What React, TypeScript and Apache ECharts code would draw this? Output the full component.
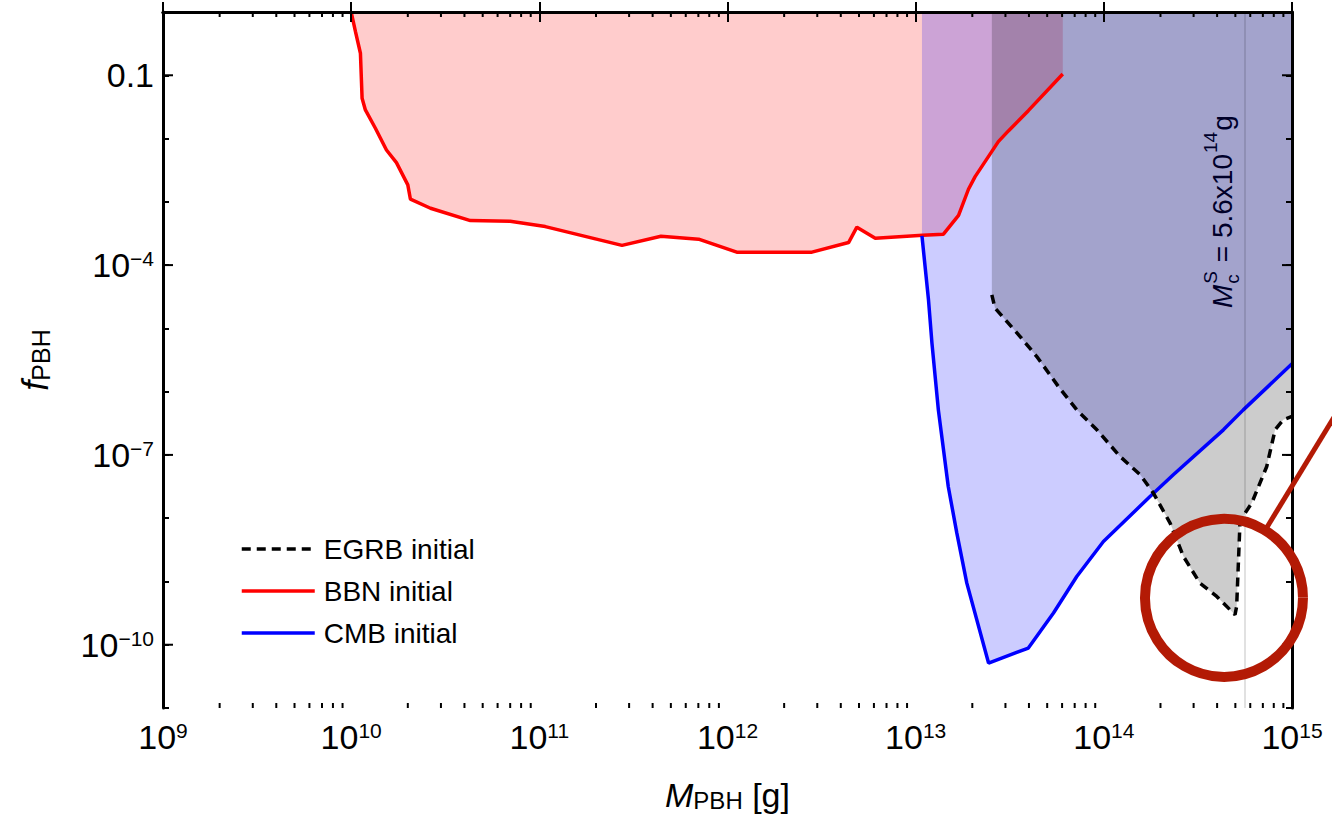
import React, { useEffect, useRef } from 'react';
import * as echarts from 'echarts';

const FONT = "'Liberation Sans', Arial, Helvetica, sans-serif";

// BBN initial constraint (boundary of red region)
const bbnMass = [1.0e10, 1.054e10, 1.12e10, 1.143e10, 1.19e10, 1.345e10, 1.54e10, 1.74e10, 2.0e10, 2.065e10, 2.64e10, 4.3e10, 7.0e10, 1.076e11, 2.75e11, 4.43e11, 7.02e11, 1.12e12, 2.81e12, 4.40e12, 4.87e12, 6.1e12, 1.09e13, 1.405e13, 1.69e13, 1.908e13, 2.07e13, 2.75e13, 3.11e13, 3.97e13, 6.05e13];
const bbnF = [1.0, 0.489, 0.223, 0.0433, 0.0283, 0.01455, 6.6e-3, 4.16e-3, 1.85e-3, 1.1e-3, 7.92e-4, 5.05e-4, 4.94e-4, 4.06e-4, 2.05e-4, 2.86e-4, 2.57e-4, 1.6e-4, 1.6e-4, 2.27e-4, 3.97e-4, 2.66e-4, 2.97e-4, 3.08e-4, 6.1e-4, 1.58e-3, 2.5e-3, 8.93e-3, 1.32e-2, 2.76e-2, 0.105];

// CMB initial constraint (boundary of blue region)
const cmbMass = [1.08e13, 1.17e13, 1.22e13, 1.32e13, 1.49e13, 1.655e13, 1.87e13, 2.44e13, 3.97e13, 5.4e13, 7.18e13, 9.95e13, 1.76e14, 2.34e14, 4.32e14, 5.51e14, 1.0e15];
const cmbF = [2.89e-4, 2.82e-5, 5.9e-6, 5.15e-7, 3.17e-8, 5.8e-9, 9.4e-10, 5.14e-11, 8.87e-11, 3.17e-10, 1.2e-9, 4.28e-9, 2.2e-8, 4.85e-8, 2.49e-7, 5.15e-7, 2.75e-6];

// EGRB initial constraint (dashed boundary of gray region)
const egrbMass = [2.54e13, 2.64e13, 3.59e13, 4.40e13, 5.74e13, 7.18e13, 9.18e13, 1.22e14, 1.56e14, 1.83e14, 2.25e14, 2.65e14, 3.24e14, 3.98e14, 4.98e14, 5.08e14, 5.29e14, 5.63e14, 6.11e14, 7.34e14, 8.13e14, 8.99e14, 1.0e15];
const egrbF = [3.38e-5, 2.09e-5, 7.42e-6, 3.59e-6, 1.2e-6, 5.15e-7, 2.49e-7, 9.44e-8, 4.85e-8, 2.52e-8, 8.37e-9, 2.48e-9, 9.44e-10, 5.8e-10, 2.98e-10, 4.03e-10, 8.37e-9, 1.2e-8, 1.73e-8, 6.56e-8, 2.49e-7, 3.59e-7, 4.05e-7];

const criticalMass = 5.6e14;
const xMin = 1e9;
const xMax = 1e15;
const yMin = 1e-11;
const yMax = 1;
const xDecades = [9, 10, 11, 12, 13, 14];
const minorMultipliers = [2, 3, 4, 5, 6, 7, 8, 9];
const yLabelExps = [-10, -7, -4, -1];
const legendNames = ['EGRB initial', 'BBN initial', 'CMB initial'];
const circleCenter = [4.35e14, 5.5e-10];
const labelAnchor = [5.6e14, 2.1e-5];

const zip = (a: number[], b: number[]) => a.map((v, i) => [v, b[i]]);

const tickRich = {
  b: { fontSize: 34, lineHeight: 34, verticalAlign: 'bottom', fontFamily: FONT, color: '#000' },
  s: { fontSize: 21, lineHeight: 14, verticalAlign: 'top', fontFamily: FONT, color: '#000' },
};

export default function App() {
  const ref = useRef<HTMLDivElement>(null);
  useEffect(() => {
    if (!ref.current) return;
    const chart = echarts.init(ref.current, null, { renderer: 'svg' });

    const tickData: number[][] = [];
    xDecades.forEach((d) =>
      minorMultipliers.forEach((m) => {
        const v = m * Math.pow(10, d);
        tickData.push([v, yMin, 0]);
        tickData.push([v, yMax, 1]);
      })
    );
    yLabelExps.forEach((e) => {
      tickData.push([xMin, Math.pow(10, e), 2]);
      tickData.push([xMax, Math.pow(10, e), 3]);
    });

    const option: any = {
      animation: false,
      backgroundColor: '#fff',
      grid: { left: 163, right: 40, top: 12, bottom: 110, containLabel: false },
      legend: {
        data: legendNames,
        orient: 'vertical',
        left: 235,
        top: 530,
        itemWidth: 73,
        itemHeight: 14,
        itemGap: 14,
        selectedMode: false,
        itemStyle: { opacity: 0, borderWidth: 0 },
        lineStyle: { width: 3.5 },
        textStyle: { fontSize: 28, lineHeight: 27, fontFamily: FONT, color: '#000', padding: [0, 0, 0, 4] },
      },
      xAxis: [
        {
          type: 'log',
          min: xMin,
          max: xMax,
          position: 'bottom',
          z: 10,
          axisLine: { show: true, lineStyle: { color: '#000', width: 3 } },
          axisTick: { show: true, inside: true, length: 10, lineStyle: { color: '#000', width: 2 } },
          splitLine: { show: false },
          axisLabel: {
            margin: 12,
            formatter: (v: number) => `{b|10}{s|${Math.round(Math.log10(v))}}`,
            rich: tickRich,
          },
          name: '{m|M}{sub|PBH}{n| [g]}',
          nameLocation: 'middle',
          nameGap: 70,
          nameTextStyle: {
            rich: {
              m: { fontSize: 34, lineHeight: 34, fontStyle: 'italic', verticalAlign: 'bottom', fontFamily: FONT, color: '#000' },
              sub: { fontSize: 24, lineHeight: 16, verticalAlign: 'bottom', fontFamily: FONT, color: '#000' },
              n: { fontSize: 34, lineHeight: 34, verticalAlign: 'bottom', fontFamily: FONT, color: '#000' },
            },
          },
        },
        {
          type: 'log',
          min: xMin,
          max: xMax,
          position: 'top',
          z: 10,
          axisLine: { show: true, lineStyle: { color: '#000', width: 3 } },
          axisTick: { show: true, inside: true, length: 10, lineStyle: { color: '#000', width: 2 } },
          splitLine: { show: false },
          axisLabel: { show: false },
        },
      ],
      yAxis: [
        {
          type: 'log',
          min: yMin,
          max: yMax,
          position: 'left',
          z: 10,
          axisLine: { show: true, lineStyle: { color: '#000', width: 3 } },
          axisTick: { show: false },
          axisLabel: { show: false },
          splitLine: { show: false },
        },
        {
          type: 'value',
          min: -11,
          max: 0,
          interval: 1,
          position: 'left',
          z: 10,
          axisLine: { show: false },
          axisTick: { show: true, inside: true, length: 6, lineStyle: { color: '#000', width: 2 } },
          splitLine: { show: false },
          axisLabel: {
            margin: 9,
            formatter: (v: number) => {
              if (v === -1) return '{b|0.1}';
              if (yLabelExps.indexOf(v) >= 0) return `{b|10}{s|\u2212${-v}}`;
              return '';
            },
            rich: tickRich,
          },
          name: '{f|f}{sub|PBH}',
          nameLocation: 'middle',
          nameRotate: 90,
          nameGap: 110,
          nameTextStyle: {
            rich: {
              f: { fontSize: 36, lineHeight: 34, fontStyle: 'italic', verticalAlign: 'bottom', fontFamily: FONT, color: '#000' },
              sub: { fontSize: 25, lineHeight: 16, verticalAlign: 'bottom', fontFamily: FONT, color: '#000' },
            },
          },
        },
        {
          type: 'value',
          min: -11,
          max: 0,
          interval: 1,
          position: 'right',
          z: 10,
          axisLine: { show: true, lineStyle: { color: '#000', width: 3 } },
          axisTick: { show: true, inside: true, length: 6, lineStyle: { color: '#000', width: 2 } },
          splitLine: { show: false },
          axisLabel: { show: false },
        },
      ],
      series: [
        {
          name: 'BBN initial',
          type: 'line',
          data: zip(bbnMass, bbnF),
          symbol: 'none',
          showSymbol: false,
          lineStyle: { color: '#ff0000', width: 3.5 },
          itemStyle: { color: '#ff0000' },
          areaStyle: { color: 'rgba(255,0,0,0.2)', opacity: 1, origin: 'end' },
          z: 2,
        },
        {
          name: 'CMB initial',
          type: 'line',
          data: zip(cmbMass, cmbF),
          symbol: 'none',
          showSymbol: false,
          lineStyle: { color: '#0000ff', width: 3.5 },
          itemStyle: { color: '#0000ff' },
          areaStyle: { color: 'rgba(0,0,255,0.2)', opacity: 1, origin: 'end' },
          z: 2,
        },
        {
          name: 'EGRB initial',
          type: 'line',
          data: zip(egrbMass, egrbF),
          symbol: 'none',
          showSymbol: false,
          lineStyle: { color: '#000000', width: 3.5, type: [9, 6] },
          itemStyle: { color: '#000000' },
          areaStyle: { color: 'rgba(0,0,0,0.2)', opacity: 1, origin: 'end' },
          z: 2,
          markLine: {
            silent: true,
            symbol: ['none', 'none'],
            label: { show: false },
            lineStyle: { color: 'rgba(0,0,0,0.16)', width: 1.5, type: 'solid' },
            data: [{ xAxis: criticalMass }],
          },
        },
        {
          name: 'ticks',
          type: 'custom',
          xAxisIndex: 0,
          yAxisIndex: 0,
          silent: true,
          z: 11,
          data: tickData,
          renderItem: (params: any, api: any) => {
            const p = api.coord([api.value(0), api.value(1)]);
            const kind = api.value(2);
            let x2 = p[0];
            let y2 = p[1];
            if (kind === 0) y2 -= 5;
            else if (kind === 1) y2 += 5;
            else if (kind === 2) x2 += 10;
            else x2 -= 10;
            return {
              type: 'line',
              shape: { x1: p[0], y1: p[1], x2, y2 },
              style: { stroke: '#000', lineWidth: 2 },
            };
          },
        },
      ],
    };
    chart.setOption(option);

    // annotations
    const canvas = document.createElement('canvas');
    const ctx = canvas.getContext('2d')!;
    const measure = (t: string, size: number, italic = false) => {
      ctx.font = `${italic ? 'italic ' : ''}${size}px ${FONT}`;
      return ctx.measureText(t).width;
    };
    const big = 28;
    const small = 19;
    const mid = (baseline: number, fs: number) => baseline - 0.35 * fs;
    const txt = (text: string, x: number, y: number, fs: number, italic = false) => ({
      type: 'text',
      x,
      y,
      style: {
        text,
        fontSize: fs,
        fontFamily: FONT,
        fontStyle: italic ? 'italic' : 'normal',
        fill: '#000',
        align: 'left',
        verticalAlign: 'middle',
        textAlign: 'left',
        textVerticalAlign: 'middle',
      },
    });
    const children: any[] = [];
    let x = 0;
    children.push(txt('M', x, mid(0, big), big, true));
    x += measure('M', big, true);
    children.push(txt('S', x + 1, mid(-15, small), small));
    children.push(txt('c', x + 1, mid(7, small), small));
    x += Math.max(measure('S', small), measure('c', small)) + 2;
    children.push(txt(' = 5.6x10', x, mid(0, big), big));
    x += measure(' = 5.6x10', big);
    children.push(txt('14', x + 1, mid(-15, small), small));
    x += measure('14', small) + 1;
    children.push(txt('g', x + 1, mid(0, big), big));

    const anchor = chart.convertToPixel({ xAxisIndex: 0, yAxisIndex: 0 } as any, labelAnchor) as number[];
    const cc = chart.convertToPixel({ xAxisIndex: 0, yAxisIndex: 0 } as any, circleCenter) as number[];
    const ux = 0.52;
    const uy = -0.854;
    chart.setOption({
      graphic: [
        {
          type: 'group',
          x: anchor[0] - 12,
          y: anchor[1],
          rotation: Math.PI / 2,
          z: 50,
          children,
        },
        {
          type: 'circle',
          shape: { cx: cc[0], cy: cc[1], r: 79 },
          style: { fill: 'none', stroke: '#B31A05', lineWidth: 10 },
          z: 100,
        },
        {
          type: 'line',
          shape: { x1: cc[0] + 83 * ux, y1: cc[1] + 83 * uy, x2: cc[0] + 300 * ux, y2: cc[1] + 300 * uy },
          style: { stroke: '#B31A05', lineWidth: 5 },
          z: 100,
        },
      ],
    });

    return () => chart.dispose();
  }, []);
  return <div ref={ref} style={{ position: 'fixed', left: 0, top: 0, width: 1332, height: 818 }} />;
}
